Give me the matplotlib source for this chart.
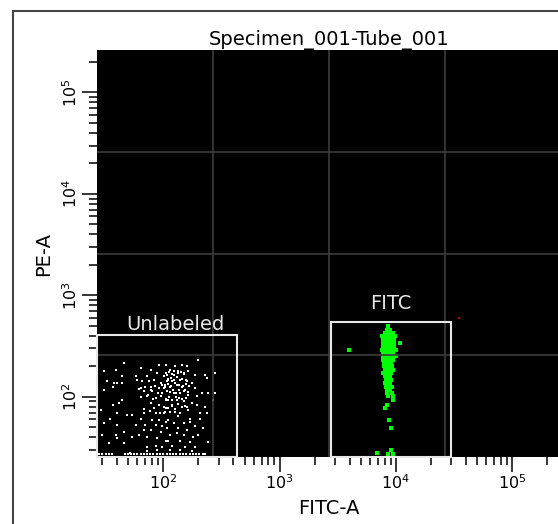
import numpy as np
import matplotlib
matplotlib.use('Agg')
import matplotlib.pyplot as plt
from matplotlib.patches import Rectangle
from matplotlib.ticker import LogLocator, NullFormatter

# %% data (FITC-A, PE-A intensities)

title = 'Specimen_001-Tube_001'
x_label = 'FITC-A'
y_label = 'PE-A'

x_min, x_max = 27.0, 262144.0
y_min, y_max = 25.5, 262144.0

# unlabeled population (white)
unl_x = [46, 64, 92, 105, 31, 39, 78, 89, 44, 58, 73, 101, 33, 38, 40, 44, 60, 66, 75, 83,
         95, 108, 37, 64, 78, 92, 101, 31, 68, 80, 98, 73, 86, 105, 44, 42, 37, 78, 92, 101,
         105, 29, 40, 49, 54, 68, 86, 101, 35, 64, 80, 92, 105, 31, 40, 58, 70, 86, 98, 46,
         68, 78, 95, 30, 39, 40, 54, 62, 73, 89, 105, 34, 46, 73, 86, 98, 52, 73, 89,
         199, 145, 127, 160, 115, 135, 108, 123, 150, 188, 229, 279, 111, 119, 140, 160, 237,
         176, 104, 115, 131, 145, 155, 188, 215, 245, 279, 108, 123, 140, 165, 195, 270, 111,
         131, 150, 176, 119, 160, 195, 229, 104, 115, 127, 140, 165, 208, 237, 135, 111, 171,
         208, 123, 150, 171, 188, 108, 135, 160, 222, 115, 131, 150, 182, 201, 111, 140, 171,
         245, 119, 155, 188, 115, 140, 176,
         106, 112, 118, 125, 133, 142, 152, 162, 109, 116, 124, 132, 144, 156,
         104, 110, 117, 126, 137, 148, 158, 168, 107, 114, 121, 129, 138, 150, 163,
         105, 113, 120, 128, 136, 146, 157, 110, 119, 127, 135, 144, 153,
         62, 70, 78, 85, 92, 98, 65, 74, 82, 90, 96, 68, 77, 84, 93]
unl_y = [215, 192, 207, 207, 178, 185, 185, 171, 159, 159, 161, 159, 142, 136, 136, 136, 147, 142, 142, 147,
         136, 142, 126, 122, 126, 122, 122, 117, 113, 113, 109, 101, 97, 93, 93, 86, 83, 86, 83, 80,
         77, 74, 69, 66, 66, 69, 69, 69, 61, 61, 59, 59, 57, 55, 53, 53, 53, 53, 51, 45,
         47, 47, 45, 42, 42, 39, 40, 42, 40, 39, 37, 35, 35, 32, 33, 32, 28, 29, 30,
         232, 207, 200, 200, 185, 178, 165, 165, 171, 165, 165, 171, 147, 142, 147, 142, 153,
         136, 126, 126, 131, 126, 117, 122, 109, 109, 109, 113, 109, 109, 104, 101, 93, 93,
         93, 90, 86, 83, 80, 83, 80, 71, 71, 71, 69, 74, 69, 69, 64, 59, 61,
         61, 55, 55, 57, 51, 49, 49, 47, 49, 42, 44, 42, 40, 42, 37, 37, 36,
         36, 33, 32, 32, 30, 30, 29,
         172, 176, 168, 180, 170, 175, 167, 178, 150, 154, 145, 158, 150, 148,
         130, 134, 128, 138, 132, 129, 135, 127, 115, 112, 118, 110, 116, 114, 111,
         96, 99, 94, 100, 97, 95, 98, 78, 82, 76, 84, 79, 81,
         120, 125, 118, 128, 122, 130, 100, 105, 96, 108, 102, 75, 72, 78, 70]

# events piled on the lower and left edges
edge_x = [28, 30, 32, 34, 36, 47, 50, 53, 56, 60, 64, 68, 72, 77, 82, 88, 94, 100, 107, 114,
          122, 130, 139, 148, 158, 169, 180, 192, 205, 219, 230,
          27, 27, 27, 27, 27, 27, 27, 27, 27, 27, 27, 27]
edge_y = [27, 27, 27, 27, 27, 27, 27, 27, 27, 27, 27, 27, 27, 27, 27, 27, 27, 27, 27, 27,
          27, 27, 27, 27, 27, 27, 27, 27, 27, 27, 27,
          32, 36, 40, 45, 52, 58, 65, 75, 85, 100, 120, 150]

# FITC population (green)
fitc_x = [8600,
          8320, 8890,
          8050, 8425, 8890, 9360,
          7540, 7890, 8200, 8600, 9000, 9490, 9810,
          7780, 8100, 8425, 8770, 9190, 9680,
          7690, 8050, 8425, 8770, 9190, 9610, 10800,
          7780, 8100, 8425, 8770, 9190, 9610,
          7540, 7890, 8200, 8600, 9000, 9490, 10000,
          7780, 8100, 8425, 8890, 9360,
          7780, 8100, 8425, 8770, 9190, 10100,
          7780, 8200, 8600, 9000, 9490,
          7890, 8200, 8600, 9000,
          7890, 8320, 8650, 9190,
          8050, 8425, 8890, 9490,
          7780, 8200, 8600, 9000,
          8050, 8425, 8890,
          8200, 8600, 9000,
          8050, 8425, 8890,
          8200, 8600, 9190,
          8320, 8890,
          8425, 9190,
          8600, 9490,
          9360, 8425, 8050, 8770, 9000, 9000, 6920, 8600, 9360, 3970]
fitc_y = [497,
          460, 460,
          427, 427, 427, 427,
          395, 395, 395, 395, 395, 395, 395,
          366, 366, 366, 366, 366, 366,
          340, 340, 340, 340, 340, 340, 340,
          315, 315, 315, 315, 315, 315,
          292, 292, 292, 292, 292, 292, 292,
          270, 270, 270, 270, 270,
          250, 250, 250, 250, 250, 250,
          232, 232, 232, 232, 232,
          215, 215, 215, 215,
          200, 200, 200, 200,
          185, 185, 185, 185,
          171, 171, 171, 171,
          159, 159, 159,
          147, 147, 147,
          136, 136, 136,
          126, 126, 126,
          117, 117,
          109, 109,
          101, 101,
          93, 83, 77, 59, 49, 30, 28, 27, 27, 292]

# lone event outside the gates (red)
other_x = [34800]
other_y = [592]

# gates: (x0, x1, top)
gate_unl = (27, 431, 402)
gate_fitc = (2770, 30000, 541)
lab_unl = ('Unlabeled', 127, 460)
lab_fitc = ('FITC', 9060, 726)

# %% figure

matplotlib.rc('font', family='DejaVu Sans')
fig = plt.figure(figsize=(5.58, 5.24), dpi=100)
ax = fig.add_axes([97/558, 1-457/524, 464/558, 407/524])
ax.set_facecolor('black')
ax.set_xscale('log')
ax.set_yscale('log')
ax.set_xlim(x_min, x_max)
ax.set_ylim(y_min, y_max)

ax.plot(unl_x, unl_y, 's', color='white', ms=1.9, mew=0, zorder=2)
ax.plot(edge_x, edge_y, 's', color='white', ms=1.9, mew=0, zorder=2)
ax.plot(fitc_x, fitc_y, 's', color='#00ff00', ms=2.4, mew=0, zorder=2)
ax.plot(other_x, other_y, 's', color='#c00000', ms=1.9, mew=0, zorder=2)

# grid splits the plot in four
lx = np.log10([x_min, x_max])
ly = np.log10([y_min, y_max])
for k in (1, 2, 3):
    ax.axvline(10**(lx[0] + k*(lx[1]-lx[0])/4), color='#3c3c3c', lw=1.2, zorder=3)
    ax.axhline(10**(ly[0] + k*(ly[1]-ly[0])/4), color='#3c3c3c', lw=1.2, zorder=3)

for g in (gate_unl, gate_fitc):
    ax.add_patch(Rectangle((g[0], y_min), g[1]-g[0], g[2]-y_min, fill=False,
                           ec='#e8e8e8', lw=1.5, zorder=4, clip_on=False))
for t, x, y in (lab_unl, lab_fitc):
    ax.text(x, y, t, color='#e8e8e8', fontsize=14, ha='center', va='baseline', zorder=5)

ax.xaxis.set_major_locator(LogLocator(base=10, numticks=10))
ax.yaxis.set_major_locator(LogLocator(base=10, numticks=10))
ax.xaxis.set_minor_locator(LogLocator(base=10, subs=np.arange(2, 10), numticks=20))
ax.yaxis.set_minor_locator(LogLocator(base=10, subs=np.arange(2, 10), numticks=20))
ax.xaxis.set_minor_formatter(NullFormatter())
ax.yaxis.set_minor_formatter(NullFormatter())
ax.tick_params(which='major', length=11, width=1.1, labelsize=11.5, pad=1)
ax.tick_params(which='minor', length=6, width=1.1)
ax.tick_params(axis='y', labelrotation=90)
for lab in ax.get_yticklabels():
    lab.set_va('center')
for s in ax.spines.values():
    s.set_visible(False)

ax.set_title(title, fontsize=14, pad=3)
ax.set_xlabel(x_label, fontsize=14, labelpad=5)
ax.set_ylabel(y_label, fontsize=14, labelpad=6)

# outer frame
fig.add_artist(Rectangle((13/558, -0.1), 1.1, 1.1 - 11/524, transform=fig.transFigure,
                         fill=False, ec='#444444', lw=1.5, clip_on=False))

plt.savefig('out.png', dpi=100)
plt.close()
